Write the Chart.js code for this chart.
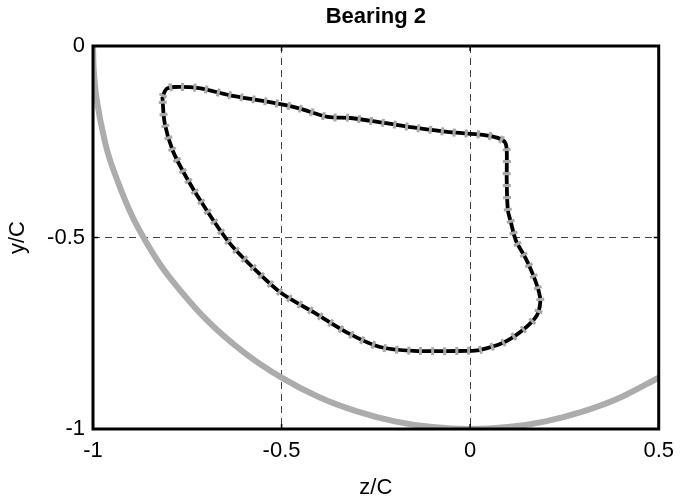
<!DOCTYPE html>
<html>
<head>
<meta charset="utf-8">
<script src="https://cdn.jsdelivr.net/npm/chart.js@4.4.1/dist/chart.umd.min.js"></script>
<style>
  html, body { margin: 0; padding: 0; background: #fff; }
  #wrap { width: 683px; height: 498px; }
</style>
</head>
<body>
<div id="wrap"><canvas id="chart"></canvas></div>
<script>
// orbit of the journal (z/C, y/C), clockwise from top-left corner
const orbitZ = [-0.816, -0.805, -0.784, -0.719, -0.640, -0.535, -0.456, -0.378, -0.317, -0.228,
                -0.142, -0.055, 0.034, 0.073, 0.092, 0.097, 0.097, 0.100, 0.108, 0.121,
                0.147, 0.165, 0.181, 0.186, 0.176, 0.139, 0.087, 0.024, -0.010, -0.149,
                -0.239, -0.325, -0.412, -0.501, -0.569, -0.640, -0.711, -0.753, -0.789, -0.810, -0.816];
const orbitY = [-0.133, -0.112, -0.107, -0.110, -0.128, -0.146, -0.162, -0.185, -0.188, -0.201,
                -0.214, -0.225, -0.232, -0.240, -0.251, -0.272, -0.350, -0.428, -0.460, -0.507,
                -0.554, -0.593, -0.637, -0.668, -0.705, -0.742, -0.775, -0.794, -0.796, -0.796,
                -0.786, -0.749, -0.697, -0.645, -0.585, -0.512, -0.410, -0.342, -0.272, -0.201, -0.133];

// clearance circle (gray)
const clearZ = [-1.0, -0.998, -0.99, -0.97, -0.95, -0.9, -0.85, -0.8, -0.7, -0.6, -0.5, -0.4,
                -0.3, -0.2, -0.1, 0.0, 0.1, 0.2, 0.3, 0.4, 0.5];
const clearY = [0.0, -0.063, -0.141, -0.243, -0.312, -0.436, -0.527, -0.600, -0.714, -0.800, -0.866, -0.917,
                -0.954, -0.980, -0.995, -1.0, -0.995, -0.980, -0.954, -0.917, -0.866];

const xTicks = [-1, -0.5, 0, 0.5];
const yTicks = [-1, -0.5, 0];
const xLabels = ['-1', '-0.5', '0', '0.5'];
const yLabels = ['-1', '-0.5', '0'];

const toPts = (xs, ys) => xs.map((x, i) => ({ x: x, y: ys[i] }));

const fontFam = "'Liberation Sans', Arial, sans-serif";

const framePlugin = {
    id: 'frame',
    afterDatasetsDraw(chart) {
        const { ctx, chartArea: a, scales } = chart;
        ctx.save();
        ctx.strokeStyle = '#000';
        ctx.lineWidth = 1.5;
        xTicks.forEach(v => {
            const px = scales.x.getPixelForValue(v);
            ctx.beginPath();
            ctx.moveTo(px, a.bottom); ctx.lineTo(px, a.bottom - 5);
            ctx.moveTo(px, a.top); ctx.lineTo(px, a.top + 5);
            ctx.stroke();
        });
        yTicks.forEach(v => {
            const py = scales.y.getPixelForValue(v);
            ctx.beginPath();
            ctx.moveTo(a.left, py); ctx.lineTo(a.left + 5, py);
            ctx.moveTo(a.right, py); ctx.lineTo(a.right - 5, py);
            ctx.stroke();
        });
        ctx.lineWidth = 3;
        ctx.strokeRect(a.left, a.top, a.right - a.left, a.bottom - a.top);
        ctx.restore();
    }
};

new Chart(document.getElementById('chart'), {
    type: 'scatter',
    data: {
        datasets: [
            {
                data: toPts(clearZ, clearY),
                showLine: true,
                borderColor: '#acacac',
                borderWidth: 6,
                pointRadius: 0,
                tension: 0.3
            },
            {
                data: toPts(orbitZ, orbitY),
                showLine: true,
                borderColor: '#a8a8a8',
                borderWidth: 8,
                borderDash: [3, 9],
                pointRadius: 0,
                tension: 0.3
            },
            {
                data: toPts(orbitZ, orbitY),
                showLine: true,
                borderColor: '#000',
                borderWidth: 3.8,
                pointRadius: 0,
                tension: 0.3
            }
        ]
    },
    options: {
        responsive: true,
        maintainAspectRatio: false,
        animation: false,
        layout: { padding: { left: 0, right: 18, top: 0, bottom: 0 } },
        plugins: {
            legend: { display: false },
            tooltip: { enabled: false },
            title: {
                display: true,
                fullSize: false,
                text: 'Bearing 2',
                color: '#000',
                font: { family: fontFam, size: 22, weight: 'bold' },
                padding: { top: 4, bottom: 15.6 }
            }
        },
        scales: {
            x: {
                type: 'linear',
                min: -1, max: 0.5,
                afterBuildTicks: s => { s.ticks = xTicks.map(v => ({ value: v })); },
                afterFit: s => { s.height = 69; },
                ticks: {
                    color: '#000',
                    font: { family: fontFam, size: 22 },
                    padding: 9,
                    maxRotation: 0,
                    callback: (v) => xLabels[xTicks.indexOf(v)]
                },
                grid: {
                    drawTicks: false,
                    color: c => (c.tick && (c.tick.value === -1 || c.tick.value === 0.5)) ? 'rgba(0,0,0,0)' : '#444',
                    lineWidth: 1
                },
                border: { display: false, dash: [7, 5] },
                title: {
                    display: true,
                    text: 'z/C',
                    color: '#000',
                    font: { family: fontFam, size: 22, lineHeight: 1 },
                    padding: { top: 0, bottom: -1 }
                }
            },
            y: {
                type: 'linear',
                min: -1, max: 0,
                afterBuildTicks: s => { s.ticks = yTicks.map(v => ({ value: v })); },
                afterFit: s => { s.width = 93; },
                ticks: {
                    color: '#000',
                    font: { family: fontFam, size: 22 },
                    padding: 8,
                    callback: (v) => yLabels[yTicks.indexOf(v)]
                },
                grid: {
                    drawTicks: false,
                    color: c => (c.tick && (c.tick.value === -1 || c.tick.value === 0)) ? 'rgba(0,0,0,0)' : '#444',
                    lineWidth: 1
                },
                border: { display: false, dash: [7, 5] },
                title: {
                    display: true,
                    text: 'y/C',
                    color: '#000',
                    font: { family: fontFam, size: 22, lineHeight: 1 },
                    padding: { top: 7, bottom: 0 }
                }
            }
        }
    },
    plugins: [framePlugin]
});
</script>
</body>
</html>
